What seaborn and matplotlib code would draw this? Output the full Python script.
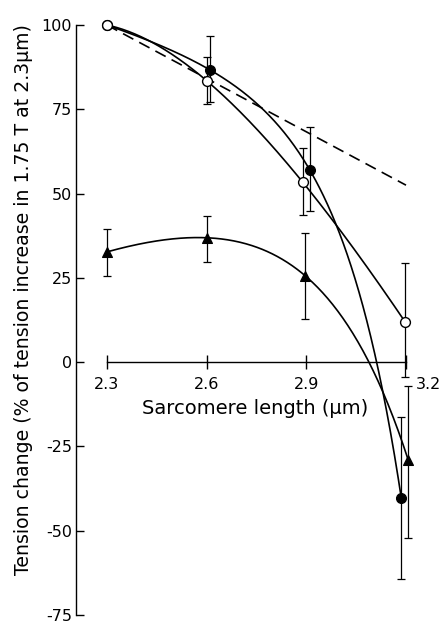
import numpy as np
import pandas as pd
import matplotlib
matplotlib.use("Agg")
import matplotlib.pyplot as plt
import matplotlib.transforms as mtransforms
import seaborn as sns

# dane

# kolka otwarte
x_open = [2.3, 2.6, 2.89, 3.197]
y_open = [100, 83.5, 53.3, 12.0]
err_open_hi = [100, 90.5, 63.6, 29.3]
err_open_lo = [100, 76.5, 43.6, -4.4]

# kolka pelne
x_fill = [2.3, 2.61, 2.91, 3.186]
y_fill = [100, 86.7, 57.1, -40.4]
err_fill_hi = [100, 96.7, 69.9, -16.2]
err_fill_lo = [100, 77.1, 44.9, -64.2]

# trojkaty
x_tri = [2.3, 2.6, 2.897, 3.207]
y_tri = [32.7, 36.9, 25.6, -29.1]
err_tri_hi = [39.6, 43.4, 38.4, -7.2]
err_tri_lo = [25.6, 29.8, 12.8, -52.3]

# linia przerywana
x_dash = [2.3, 3.2]
y_dash = [100, 52.5]

x_ticks = [2.3, 2.6, 2.9, 3.2]
x_tick_labels = ["2.3", "2.6", "2.9", "3.2"]
y_ticks = [-75, -50, -25, 0, 25, 50, 75, 100]

sns.set_style("ticks")
plt.rcParams["font.family"] = ["DejaVu Sans"]
plt.rcParams["axes.unicode_minus"] = False
plt.rcParams["text.color"] = "black"
plt.rcParams["axes.labelcolor"] = "black"

fig = plt.figure(figsize=(4.41, 6.24), dpi=100)
ax = fig.add_axes([0.1723, 0.009, 0.786, 0.9617])


def gladka(x, y):
    # dopasowanie y = a + c*x + b*exp(k*x), k szukane po siatce
    x = np.asarray(x, float)
    y = np.asarray(y, float)
    best = None
    for k in np.arange(-20, 20, 0.01):
        if abs(k) < 0.1:
            continue
        A = np.column_stack([np.ones_like(x), x - x[0], np.exp(k * (x - x[0]))])
        coef, res, rank, sv = np.linalg.lstsq(A, y, rcond=None)
        err = np.sum((A @ coef - y) ** 2)
        if best is None or err < best[0]:
            best = (err, k, coef)
    err, k, coef = best
    xs = np.linspace(x[0], x[-1], 300)
    ys = coef[0] + coef[1] * (xs - x[0]) + coef[2] * np.exp(k * (xs - x[0]))
    return pd.DataFrame({"x": xs, "y": ys})


for xx, yy in [(x_open, y_open), (x_fill, y_fill), (x_tri, y_tri)]:
    krzywa = gladka(xx, yy)
    sns.lineplot(data=krzywa, x="x", y="y", ax=ax, color="black", lw=1.2,
                 estimator=None, sort=False)

sns.lineplot(x=x_dash, y=y_dash, ax=ax, color="black", lw=1.2,
             linestyle=(0, (7, 4)))

# slupki bledow
for xx, hi, lo in [(x_open, err_open_hi, err_open_lo),
                   (x_fill, err_fill_hi, err_fill_lo),
                   (x_tri, err_tri_hi, err_tri_lo)]:
    for xi, h, l in zip(xx, hi, lo):
        if h == l:
            continue
        ax.errorbar([xi], [(h + l) / 2], yerr=[[(h - l) / 2]], fmt="none",
                    ecolor="black", elinewidth=0.9, capsize=3, capthick=0.9)

# punkty
sns.scatterplot(x=x_fill, y=y_fill, ax=ax, marker="o", s=50,
                color="black", edgecolor="black", linewidth=0.9, zorder=5)
sns.scatterplot(x=x_open, y=y_open, ax=ax, marker="o", s=50,
                color="white", edgecolor="black", linewidth=1.0, zorder=6)
sns.scatterplot(x=x_tri, y=y_tri, ax=ax, marker="^", s=50,
                color="black", edgecolor="black", linewidth=0.9, zorder=5)

# osie
ax.set_xlim(2.207, 3.25)
ax.set_ylim(-76, 102)
ax.spines["top"].set_visible(False)
ax.spines["right"].set_visible(False)
ax.spines["left"].set_bounds(-75, 100)
ax.spines["bottom"].set_position(("data", 0))
ax.spines["bottom"].set_bounds(2.3, 3.2)
for s in ["left", "bottom"]:
    ax.spines[s].set_linewidth(1.0)
    ax.spines[s].set_color("black")

ax.set_xticks(x_ticks)
ax.set_xticklabels(x_tick_labels, fontsize=11.5)
ax.set_yticks(y_ticks)
ax.set_yticklabels([str(v) for v in y_ticks], fontsize=11.5)
ax.tick_params(axis="x", direction="inout", length=10, width=1.0, pad=6,
               colors="black")
ax.tick_params(axis="y", direction="in", length=6, width=1.0, pad=3,
               colors="black")

# przesuniecie etykiety 3.2 w prawo
ostatnia = ax.get_xticklabels()[-1]
ostatnia.set_transform(ostatnia.get_transform() +
                       mtransforms.ScaledTranslation(16 / 72, 0, fig.dpi_scale_trans))

ax.set_xlabel("Sarcomere length (\u03bcm)", fontsize=14)
ax.xaxis.set_label_coords(0.516, 0.366)
ax.set_ylabel("Tension change (% of tension increase in 1.75 T at 2.3\u03bcm)",
              fontsize=13.6)
ax.yaxis.set_label_coords(-0.125, 0.532)

plt.savefig("out.png", dpi=100)
